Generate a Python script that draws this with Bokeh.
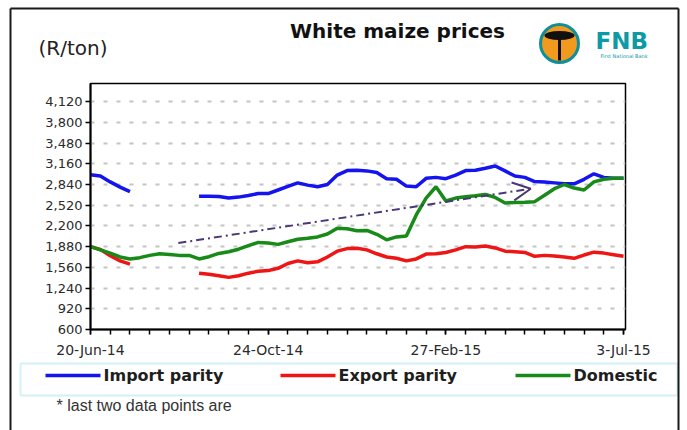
from bokeh.plotting import figure
from bokeh.models import Range1d, FixedTicker, NumeralTickFormatter, Arrow, OpenHead
from bokeh.core.properties import value
from bokeh.embed import file_html
from bokeh.resources import INLINE

nan = float("nan")

# ---------------- data (weekly, 20-Jun-14 .. 3-Jul-15) ----------------
WEEKS = list(range(55))
IMPORT_PARITY = [2990, 2970, 2880, 2800, 2730, nan, nan, nan, nan, nan,
                 nan, 2660, 2660, 2655, 2630, 2645, 2670, 2700, 2700, 2755,
                 2810, 2865, 2830, 2805, 2840, 2985, 3055, 3060, 3050, 3025,
                 2930, 2920, 2815, 2805, 2935, 2950, 2930, 2985, 3055, 3060,
                 3090, 3125, 3050, 2970, 2950, 2885, 2880, 2865, 2850, 2850,
                 2920, 3005, 2950, 2935, 2935]
EXPORT_PARITY = [1880, 1835, 1740, 1660, 1610, nan, nan, nan, nan, nan,
                 nan, 1470, 1455, 1430, 1405, 1430, 1470, 1500, 1510, 1545,
                 1620, 1660, 1630, 1645, 1720, 1810, 1850, 1855, 1830, 1770,
                 1720, 1700, 1660, 1690, 1765, 1770, 1790, 1830, 1880, 1875,
                 1890, 1860, 1810, 1800, 1790, 1730, 1745, 1735, 1720, 1700,
                 1750, 1795, 1780, 1755, 1730]
DOMESTIC = [1880, 1830, 1780, 1720, 1690, 1710, 1745, 1770, 1760, 1745,
            1745, 1690, 1725, 1775, 1800, 1840, 1895, 1945, 1935, 1915,
            1955, 1995, 2010, 2030, 2075, 2165, 2155, 2125, 2130, 2070,
            1985, 2030, 2045, 2370, 2630, 2805, 2585, 2630, 2650, 2665,
            2685, 2640, 2555, 2560, 2565, 2575, 2675, 2775, 2840, 2785,
            2755, 2880, 2920, 2935, 2935]

SERIES_NAMES = ["Import parity", "Export parity", "Domestic"]
SERIES_COLORS = ["#1414ee", "#ee1515", "#178a17"]

X_TICKS = [0, 18, 36, 54]
X_TICK_LABELS = ["20-Jun-14", "24-Oct-14", "27-Feb-15", "3-Jul-15"]
X_MINOR = [0, 2, 4, 6, 8, 10, 12, 14, 16, 18, 20, 22, 24, 26, 28, 30, 32, 34, 36,
           38, 40, 42, 44, 46, 48, 50, 52, 54]
Y_TICKS = [600, 920, 1240, 1560, 1880, 2200, 2520, 2840, 3160, 3480, 3800, 4120]

TREND_START = (8.9, 1935)
TREND_END = (44.6, 2775)

# ---------------- layout (page pixels) ----------------
W, H = 687, 430
FL, FR, FT, FB = 90, 625, 83, 329
X0, X1 = 0, 54.2
Y0, Y1 = 600, 4400


def dx(px):
    return X0 + (px - FL) / (FR - FL) * (X1 - X0)


def dy(py):
    return Y0 + (FB - py) / (FB - FT) * (Y1 - Y0)


p = figure(width=W, height=H, x_range=Range1d(X0, X1), y_range=Range1d(Y0, Y1),
           output_backend="svg", toolbar_location=None,
           min_border_left=FL, min_border_right=W - FR, min_border_top=FT,
           min_border_bottom=H - FB)
p.background_fill_color = "white"
p.border_fill_color = "white"
p.outline_line_color = "black"
p.outline_line_width = 1.5

# axes
p.xaxis.ticker = FixedTicker(ticks=X_TICKS, minor_ticks=X_MINOR)
p.xaxis.major_label_overrides = {t: l for t, l in zip(X_TICKS, X_TICK_LABELS)}
p.yaxis.ticker = FixedTicker(ticks=Y_TICKS, minor_ticks=[])
p.yaxis.formatter = NumeralTickFormatter(format="0,0")
for ax in (p.xaxis[0], p.yaxis[0]):
    ax.axis_line_color = "black"
    ax.axis_line_width = 2
    ax.major_tick_line_color = "black"
    ax.major_tick_line_width = 1.5
    ax.minor_tick_line_color = "black"
    ax.minor_tick_line_width = 1.5
    ax.major_tick_in = 0
    ax.minor_tick_in = 0
    ax.major_tick_out = 5
    ax.minor_tick_out = 5
    ax.major_label_text_font = "DejaVu Sans"
    ax.major_label_text_color = "#2a2a2a"
p.xaxis.major_label_text_font_size = "14px"
p.xaxis.major_label_standoff = 7
p.yaxis.major_label_text_font_size = "13px"
p.yaxis.major_label_standoff = 3

p.xgrid.grid_line_color = None
p.ygrid.grid_line_color = "#c4c4c4"
p.ygrid.grid_line_width = 2
p.ygrid.grid_line_dash = "4 9"

# series
for vals, col in zip([IMPORT_PARITY, EXPORT_PARITY, DOMESTIC], SERIES_COLORS):
    p.line(WEEKS, vals, line_color=col, line_width=3.5)

# trend arrow
p.add_layout(Arrow(end=OpenHead(size=18, line_color="#4a3777", line_width=2),
                   x_start=TREND_START[0], y_start=TREND_START[1],
                   x_end=TREND_END[0], y_end=TREND_END[1],
                   line_color="#4a3777", line_width=2, line_dash="8 4 2 4"))

# legend (drawn below the axis, outside the plot frame)
LEG_Y = 375
LEG_GLYPH_X = [45, 280, 515]
LEG_GLYPH_W = 55
p.segment([dx(20), dx(20), dx(20), dx(677)], [dy(363), dy(363), dy(395), dy(363)],
          [dx(677), dx(20), dx(677), dx(677)], [dy(363), dy(395), dy(395), dy(395)],
          line_color="#d2f0f6", line_width=2, level="overlay")
p.segment([dx(gx) for gx in LEG_GLYPH_X], [dy(LEG_Y)] * 3,
          [dx(gx + LEG_GLYPH_W) for gx in LEG_GLYPH_X], [dy(LEG_Y)] * 3,
          line_color=SERIES_COLORS, line_width=3.5, level="overlay")
p.text([dx(gx + LEG_GLYPH_W + 3) for gx in LEG_GLYPH_X], [dy(LEG_Y)] * 3, text=SERIES_NAMES,
       text_align="left", text_baseline="middle", text_font=value("DejaVu Sans"),
       text_font_style="bold", text_font_size="16px", text_color="#1e1e1e", level="overlay")

# outer frame of the picture
p.segment([dx(10), dx(10), dx(678)], [dy(8), dy(8), dy(8)],
          [dx(10), dx(678), dx(678)], [dy(430), dy(8), dy(430)],
          line_color="#1a1a1a", line_width=2, level="overlay")

# texts
p.text([dx(397)], [dy(30)], text=["White maize prices"], text_align="center",
       text_baseline="middle", text_font=value("DejaVu Sans"), text_font_style="bold",
       text_font_size="20px", text_color="#111111", level="overlay")
p.text([dx(38)], [dy(47)], text=["(R/ton)"], text_align="left",
       text_baseline="middle", text_font=value("DejaVu Sans"),
       text_font_size="20px", text_color="#222222", level="overlay")
p.text([dx(56)], [dy(405)], text=["* last two data points are"], text_align="left",
       text_baseline="middle", text_font=value("Liberation Sans"),
       text_font_size="16px", text_color="#333333", level="overlay")

# FNB logo
p.ellipse([dx(559)], [dy(43)], width=38, height=38, width_units="screen",
          height_units="screen", fill_color="#f29a1d", line_color="#0e8f9a",
          line_width=3, level="overlay")
p.ellipse([dx(559)], [dy(35)], width=30, height=9, width_units="screen",
          height_units="screen", fill_color="#111111", line_color=None, level="overlay")
p.segment([dx(559)], [dy(37)], [dx(559)], [dy(60)], line_color="#111111", line_width=3,
          level="overlay")
p.text([dx(595)], [dy(40)], text=["FNB"], text_align="left", text_baseline="middle",
       text_font=value("DejaVu Sans"), text_font_style="bold", text_font_size="23px",
       text_color="#0c9aa5", level="overlay")
p.text([dx(600)], [dy(55)], text=["First National Bank"], text_align="left",
       text_baseline="middle", text_font=value("DejaVu Sans"), text_font_size="5px",
       text_color="#0c9aa5", level="overlay")

open("out.html", "w").write(file_html(p, INLINE))
